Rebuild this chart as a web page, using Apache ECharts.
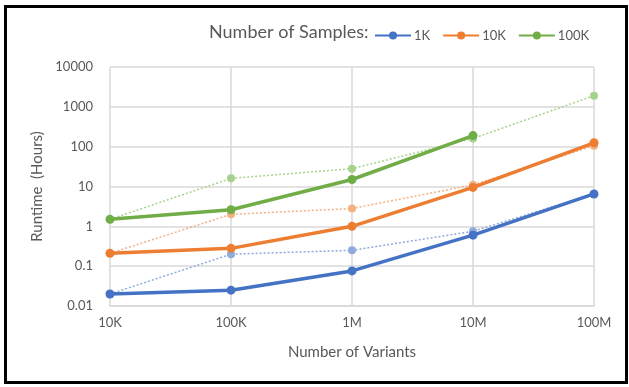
<!DOCTYPE html>
<html>
<head>
<meta charset="utf-8">
<script src="https://cdn.jsdelivr.net/npm/echarts@6/dist/echarts.min.js"></script>
<style>
  html, body { margin: 0; padding: 0; background: #fff; }
  #chart { width: 629px; height: 387px; }
</style>
</head>
<body>
<div id="chart"></div>
<script>
// x categories: number of variants
var categories = ["10K", "100K", "1M", "10M", "100M"];
// solid lines (runtime, hours)
var s1K = [0.02, 0.025, 0.076, 0.6, 6.5];
var s10K = [0.21, 0.28, 1.0, 9.5, 125];
var s100K = [1.5, 2.6, 15, 190, null];
// dotted lines (lighter)
var s1KDot = [0.02, 0.2, 0.25, 0.75, 6.5];
var s10KDot = [0.21, 2.0, 2.8, 11, 105];
var s100KDot = [1.5, 16, 28, 160, 1900];
var yTicks = [0.01, 0.1, 1, 10, 100, 1000, 10000];

var myChart = echarts.init(document.getElementById("chart"));

function dotted(name, data, color) {
  return {
    name: name,
    type: "line",
    data: data,
    symbol: "circle",
    symbolSize: 8,
    itemStyle: { color: color },
    lineStyle: { color: color, width: 1.5, type: [2, 2] },
    z: 2
  };
}
function solid(name, data, color) {
  return {
    name: name,
    type: "line",
    data: data,
    symbol: "circle",
    symbolSize: 9,
    itemStyle: { color: color },
    lineStyle: { color: color, width: 3.5 },
    z: 3
  };
}

var option = {
  animation: false,
  textStyle: { fontFamily: "Lato", color: "#595959" },
  graphic: [
    {
      // outer frame
      type: "rect",
      shape: { x: 5.5, y: 6.5, width: 621, height: 376 },
      style: { fill: null, stroke: "#000", lineWidth: 3 }
    }
  ],
  title: {
    text: "Number of Samples:",
    left: 204,
    top: 18,
    textStyle: { fontFamily: "Lato", fontSize: 18, fontWeight: "normal", color: "#595959" }
  },
  legend: {
    data: ["1K", "10K", "100K"],
    left: 369,
    top: 24,
    itemWidth: 36,
    itemHeight: 10,
    itemGap: 12,
    textStyle: { fontFamily: "Lato", fontSize: 13, color: "#595959", padding: [0, 0, 0, -2] }
  },
  grid: { left: 110, right: 35, top: 67, bottom: 81 },
  xAxis: {
    type: "category",
    data: categories,
    boundaryGap: false,
    name: "Number of Variants",
    nameLocation: "middle",
    nameGap: 39,
    nameTextStyle: { fontSize: 15, color: "#595959" },
    axisLine: { show: true, lineStyle: { color: "#d9d9d9", width: 1.5 } },
    axisTick: { show: false },
    axisLabel: { fontSize: 13, color: "#595959", margin: 10 },
    splitLine: { show: true, lineStyle: { color: "#d9d9d9", width: 1.5 } }
  },
  yAxis: {
    type: "log",
    logBase: 10,
    min: 0.01,
    max: 10000,
    name: "Runtime  (Hours)",
    nameLocation: "middle",
    nameGap: 62,
    nameTextStyle: { fontSize: 15, color: "#595959" },
    axisLine: { show: false },
    axisTick: { show: false },
    axisLabel: {
      fontSize: 13,
      color: "#595959",
      margin: 17,
      formatter: function (v) {
        for (var i = 0; i < yTicks.length; i++) {
          if (Math.abs(Math.log10(v) - Math.log10(yTicks[i])) < 1e-6) return String(yTicks[i]);
        }
        return "";
      }
    },
    splitLine: { show: true, lineStyle: { color: "#d9d9d9", width: 1.5 } }
  },
  series: [
    dotted("1K dotted", s1KDot, "#8faadc"),
    dotted("10K dotted", s10KDot, "#f4b183"),
    dotted("100K dotted", s100KDot, "#a9d18e"),
    solid("1K", s1K, "#4472c4"),
    solid("10K", s10K, "#ed7d31"),
    solid("100K", s100K, "#70ad47")
  ]
};
myChart.setOption(option);
</script>
</body>
</html>
